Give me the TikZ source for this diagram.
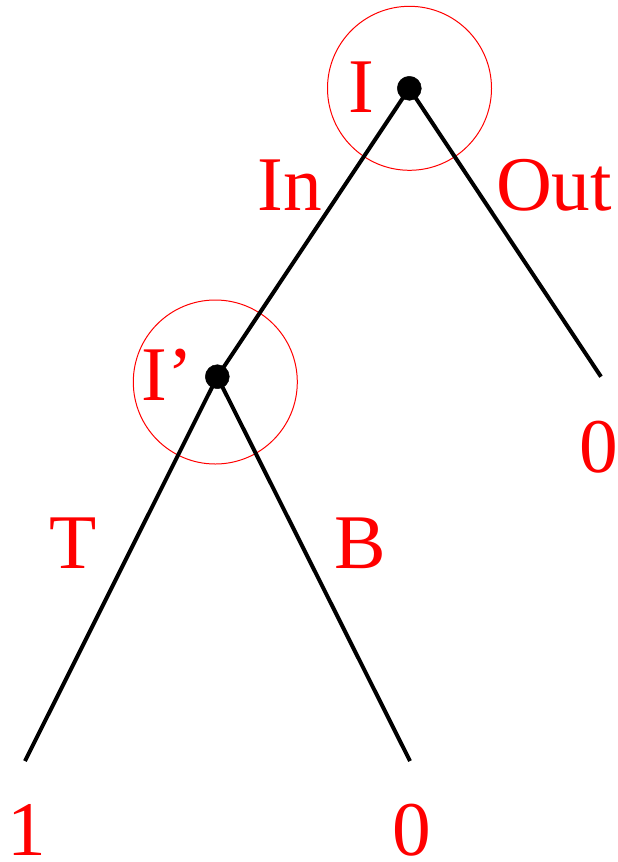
\documentclass[tikz,border=0pt]{standalone}
\usepackage{fontspec}
\setmainfont{Liberation Serif}
\usepackage{xcolor}
\usetikzlibrary{positioning}

\begin{document}
\begin{tikzpicture}[
        x=0.03cm, y=-0.03cm,
        % Define styles for the decision points, info sets and labels
        decision/.style={draw, circle, fill=black, minimum size=0.72cm, inner sep=0pt},
        infoset/.style={draw=red, circle, line width=0.85pt, minimum size=4.92cm, inner sep=0pt},
        branch/.style={line width=3.4pt},
        lbl/.style={text=red, anchor=base, inner sep=0pt, font=\fontsize{66}{70}\selectfont}
    ]
    \useasboundingbox (0,0) rectangle (618,862);

    % Information sets around the decision points
    \node[infoset] (setI) at (409.5,88.3) {};
    \node[infoset] (setJ) at (215.3,382) {};

    % Decision points and end points of the branches
    \node[decision] (root) at (409.3,88.3) {};
    \node[decision] (inner) at (217.3,376.7) {};
    \coordinate (leafOut) at (601,376.7);
    \coordinate (leafT) at (25,761);
    \coordinate (leafB) at (410,761);

    % Draw the branches
    \draw[branch] (root.center) -- (inner.center);
    \draw[branch] (root.center) -- (leafOut);
    \draw[branch] (inner.center) -- (leafT);
    \draw[branch] (inner.center) -- (leafB);

    % Labels of players, moves and payoffs
    \node[lbl] (nameI) at (361.5,112) {I};
    \node[lbl] (nameJ) at (167,400) {I’};
    \node[lbl] (moveIn) at (289.5,210) {In};
    \node[lbl] (moveOut) at (554,210) {Out};
    \node[lbl] (moveT) at (73,568) {T};
    \node[lbl] (moveB) at (360,568) {B};
    \node[lbl] (payOut) at (599,472) {0};
    \node[lbl] (payT) at (27,855) {1};
    \node[lbl] (payB) at (412,855) {0};
\end{tikzpicture}
\end{document}
